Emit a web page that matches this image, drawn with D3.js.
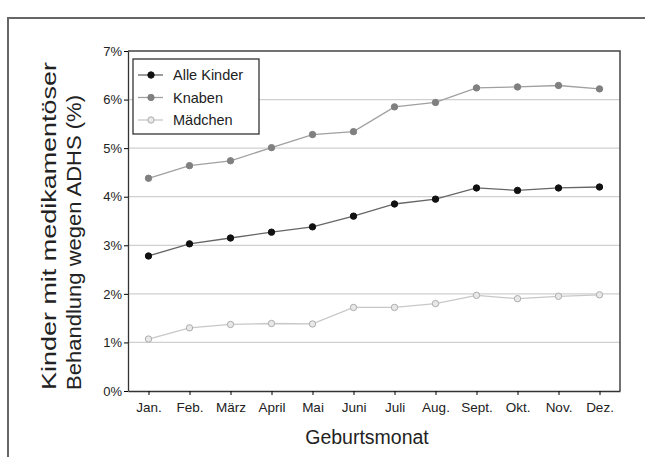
<!DOCTYPE html>
<html>
<head>
<meta charset="utf-8">
<script src="https://cdn.jsdelivr.net/npm/d3@7"></script>
<style>
  body { margin: 0; background: #fff; }
  text { font-family: "Liberation Sans", Arial, sans-serif; fill: #222; }
</style>
</head>
<body>
<script>
// Geburtsmonat vs. Anteil Kinder mit medikamentöser ADHS-Behandlung

const width = 645;
const height = 457;
const margin = {top: 51, left: 128, bottom: 66, right: 25};

const months = ['Jan.', 'Feb.', 'März', 'April', 'Mai', 'Juni', 'Juli', 'Aug.', 'Sept.', 'Okt.', 'Nov.', 'Dez.'];
const alleKinder = [2.78, 3.03, 3.15, 3.27, 3.38, 3.60, 3.85, 3.95, 4.18, 4.13, 4.18, 4.20];
const knaben = [4.38, 4.64, 4.74, 5.01, 5.28, 5.34, 5.85, 5.94, 6.24, 6.26, 6.29, 6.22];
const maedchen = [1.07, 1.30, 1.37, 1.39, 1.38, 1.72, 1.72, 1.80, 1.97, 1.90, 1.95, 1.98];
const yTicks = [0, 1, 2, 3, 4, 5, 6, 7];
const seriesNames = ['Alle Kinder', 'Knaben', 'Mädchen'];

const series = [
    {name: seriesNames[0], values: alleKinder, line: '#666', dot: '#111', open: false},
    {name: seriesNames[1], values: knaben, line: '#a0a0a0', dot: '#808080', open: false},
    {name: seriesNames[2], values: maedchen, line: '#c8c8c8', dot: '#adadad', open: true}
];

const x = d3.scalePoint()
    .domain(months)
    .range([margin.left, width - margin.right])
    .padding(0.5);

const y = d3.scaleLinear()
    .domain([0, 7])
    .range([height - margin.bottom, margin.top]);

const svg = d3.select('body').append('svg')
    .attr('width', width)
    .attr('height', height);

// outer frame of the scan
svg.append('path')
    .attr('d', `M8,${height} V18 H${width}`)
    .attr('fill', 'none')
    .attr('stroke', '#666')
    .attr('stroke-width', 2);

// grid lines
svg.append('g')
    .selectAll('line').data(yTicks.filter(d => d > 0 && d < 7)).enter().append('line')
    .attr('x1', margin.left)
    .attr('x2', width - margin.right)
    .attr('y1', d => y(d))
    .attr('y2', d => y(d))
    .attr('stroke', '#d0d0d0')
    .attr('stroke-width', 1.2);

// top and right border of plot
svg.append('path')
    .attr('d', `M${margin.left},${y(7)} H${width - margin.right} V${y(0)}`)
    .attr('fill', 'none')
    .attr('stroke', '#444')
    .attr('stroke-width', 1.5);

const xAxis = g => g
    .attr('transform', `translate(0, ${y(0)})`)
    .call(d3.axisBottom(x).tickSize(4).tickSizeOuter(0))
    .call(g => g.selectAll('text').attr('font-size', 13.5).attr('dy', '1.05em'))
    .call(g => g.select('.domain').attr('stroke', '#333').attr('stroke-width', 1.3));

const yAxis = g => g
    .attr('transform', `translate(${margin.left}, 0)`)
    .call(d3.axisLeft(y).tickValues(yTicks).tickFormat(d => d + '%').tickSize(4).tickSizeOuter(0))
    .call(g => g.selectAll('text').attr('font-size', 13).attr('x', -6))
    .call(g => g.select('.domain').attr('stroke', '#333').attr('stroke-width', 1.3));

svg.append('g').call(xAxis);
svg.append('g').call(yAxis);

const line = d3.line()
    .x((d, i) => x(months[i]))
    .y(d => y(d));

const groups = svg.append('g')
    .selectAll('g').data(series).enter().append('g');

groups.append('path')
    .attr('d', d => line(d.values))
    .attr('fill', 'none')
    .attr('stroke', d => d.line)
    .attr('stroke-width', 1.3);

groups.selectAll('circle').data(d => d.values.map(v => ({v, s: d}))).enter().append('circle')
    .attr('cx', (d, i) => x(months[i]))
    .attr('cy', d => y(d.v))
    .attr('r', 3.2)
    .attr('fill', d => d.s.open ? '#e8e8e8' : d.s.dot)
    .attr('stroke', d => d.s.dot)
    .attr('stroke-width', 1);

// legend
const legend = svg.append('g').attr('transform', 'translate(133, 59)');
legend.append('rect')
    .attr('width', 126)
    .attr('height', 75)
    .attr('fill', '#fff')
    .attr('stroke', '#333')
    .attr('stroke-width', 1.3);

const item = legend.selectAll('g.item').data(series).enter().append('g')
    .attr('class', 'item')
    .attr('transform', (d, i) => `translate(0, ${16 + i * 22.5})`);
item.append('line')
    .attr('x1', 5).attr('x2', 30)
    .attr('stroke', d => d.line)
    .attr('stroke-width', 1.3);
item.append('circle')
    .attr('cx', 18)
    .attr('r', 3.2)
    .attr('fill', d => d.open ? '#e8e8e8' : d.dot)
    .attr('stroke', d => d.dot);
item.append('text')
    .attr('x', 40)
    .attr('dy', '0.35em')
    .attr('font-size', 14.5)
    .text(d => d.name);

// axis titles
svg.append('text')
    .attr('x', 367)
    .attr('y', 444)
    .attr('text-anchor', 'middle')
    .attr('font-size', 19.5)
    .text('Geburtsmonat');

const yTitle = svg.append('text')
    .attr('transform', `translate(0, 390) rotate(-90)`)
    .attr('text-anchor', 'start')
    .attr('font-size', 21);
yTitle.append('tspan').attr('x', 0).attr('y', 56)
    .attr('textLength', 328).attr('lengthAdjust', 'spacingAndGlyphs')
    .text('Kinder mit medikamentöser');
yTitle.append('tspan').attr('x', 0).attr('y', 81)
    .attr('textLength', 295).attr('lengthAdjust', 'spacingAndGlyphs')
    .text('Behandlung wegen ADHS  (%)');

svg.node();
</script>
</body>
</html>
